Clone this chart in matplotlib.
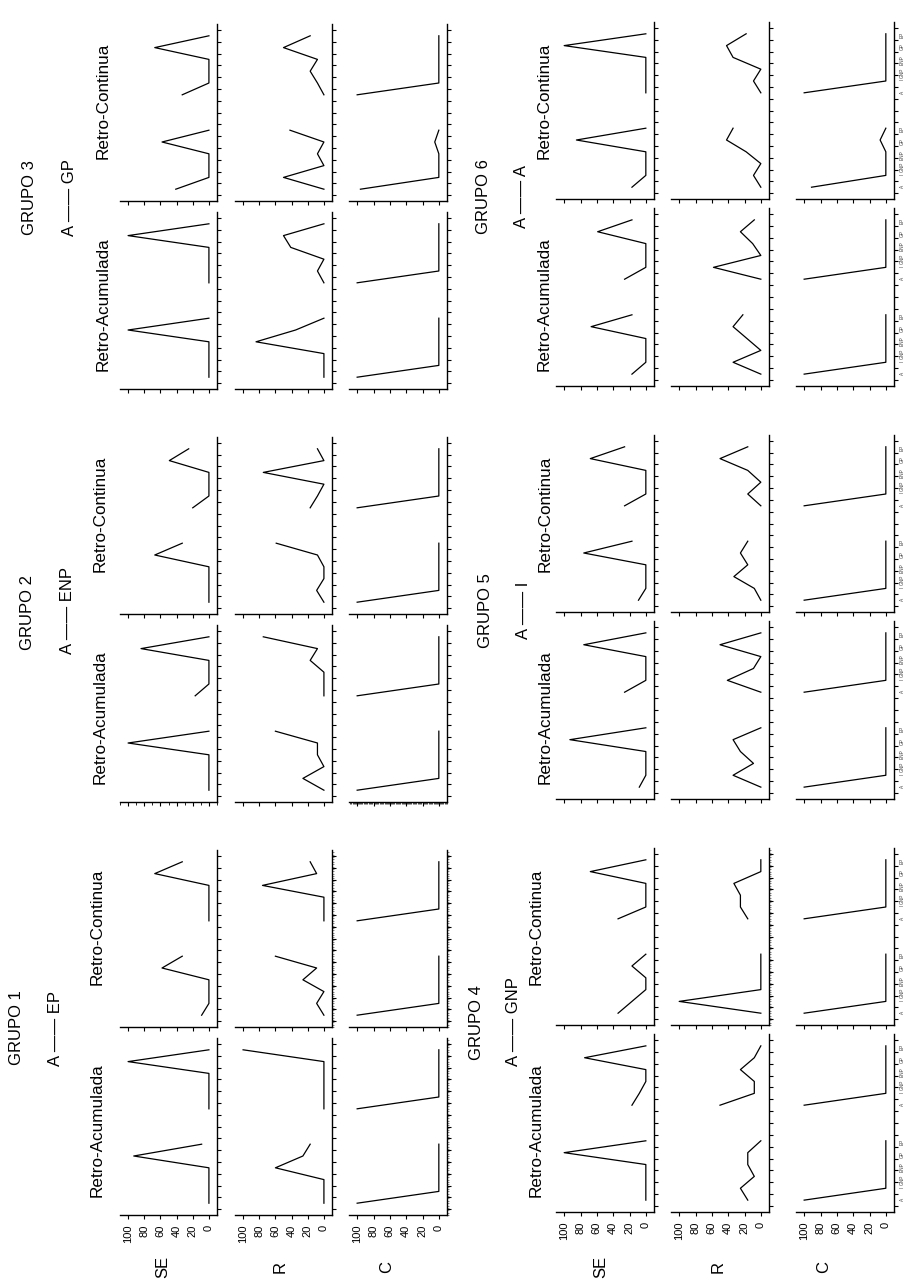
import numpy as np
import matplotlib
matplotlib.use('Agg')
import matplotlib.pyplot as plt
from matplotlib.ticker import FixedLocator, NullFormatter, FixedFormatter

plt.rcParams['font.family'] = 'Liberation Sans'

# categories on the (rotated) x axis, two blocks per panel
cats = ['A', 'I', 'GNP', 'ENP', 'GP', 'EP']
rows = ['SE', 'R', 'C']
cols = ['Retro-Acumulada', 'Retro-Continua']
groups = ['GRUPO 1', 'GRUPO 2', 'GRUPO 3', 'GRUPO 4', 'GRUPO 5', 'GRUPO 6']
pairs = ['A —— EP', 'A —— ENP', 'A —— GP', 'A —— GNP', 'A —— I', 'A —— A']
value_ticks = [0, 20, 40, 60, 80, 100]

L = [100, 0, 0, 0, 0, 0]

# each list: [acum serie 1, acum serie 2, cont serie 1, cont serie 2]
g1_se = [[0, 0, 0, 0, 93, 9], [0, 0, 0, 0, 100, 0], [9, 0, 0, 0, 58, 33], [0, 0, 0, 0, 67, 33]]
g1_r = [[0, 0, 0, 60, 26, 17], [0, 0, 0, 0, 0, 100], [0, 9, 0, 26, 9, 60], [0, 0, 0, 76, 9, 17]]
g1_c = [L, L, L, L]

g2_se = [[0, 0, 0, 0, 100, 0], [17, 0, 0, 0, 84, 0], [0, 0, 0, 0, 67, 33], [20, 0, 0, 0, 49, 25]]
g2_r = [[0, 26, 0, 8, 8, 60], [0, 0, 0, 17, 8, 75], [0, 9, 0, 0, 8, 59], [17, 8, 0, 75, 0, 8]]
g2_c = [L, L, L, L]

g3_se = [[0, 0, 0, 0, 100, 0], [0, 0, 0, 0, 100, 0], [41, 0, 0, 0, 58, 0], [33, 0, 0, 0, 67, 0]]
g3_r = [[0, 0, 0, 84, 35, 0], [0, 8, 0, 41, 50, 0], [0, 50, 0, 8, 0, 42], [0, 8, 17, 8, 50, 17]]
g3_c = [L, L, [96, 0, 0, 0, 5, 0], L]

g4_se = [[0, 0, 0, 0, 100, 0], [17, 8, 0, 0, 75, 0], [34, 17, 0, 0, 17, 0], [34, 0, 0, 0, 68, 0]]
g4_r = [[16, 25, 8, 16, 16, 0], [50, 8, 8, 25, 8, 0], [0, 100, 0, 0, 0, 0], [16, 25, 25, 33, 0, 0]]
g4_c = [L, L, L, L]

g5_se = [[8, 0, 0, 0, 93, 0], [26, 0, 0, 0, 76, 0], [9, 0, 0, 0, 76, 17], [26, 0, 0, 0, 68, 26]]
g5_r = [[0, 34, 9, 25, 34, 0], [0, 41, 9, 0, 50, 0], [0, 8, 33, 16, 25, 16], [0, 16, 0, 16, 50, 16]]
g5_c = [L, L, L, L]

g6_se = [[17, 0, 0, 0, 67, 17], [26, 0, 0, 0, 59, 17], [17, 0, 0, 0, 85, 0], [0, 0, 0, 0, 100, 0]]
g6_r = [[0, 34, 0, 17, 34, 22], [0, 58, 0, 10, 25, 8], [0, 9, 0, 18, 42, 34], [0, 9, 0, 34, 42, 18]]
g6_c = [L, L, [91, 0, 0, 0, 7, 0], L]

data = [[g1_se, g1_r, g1_c], [g2_se, g2_r, g2_c], [g3_se, g3_r, g3_c],
        [g4_se, g4_r, g4_c], [g5_se, g5_r, g5_c], [g6_se, g6_r, g6_c]]

# page is drawn rotated 90 degrees: pixel layout in the portrait image
W, H = 911, 1281
fig = plt.figure(figsize=(W / 100, H / 100), dpi=100)


def rect(x0, x1, y0, y1):
    return [x0 / W, 1 - y1 / H, (x1 - x0) / W, (y1 - y0) / H]


def ptext(x, y, s, size=12, **kw):
    fig.text(x / W, 1 - y / H, s, rotation=90, ha='center', va='center', fontsize=size, **kw)


row_x = [[(120, 217), (235, 332), (349, 447)], [(556, 654), (671, 769), (796, 894)]]
acum_y = [(1038, 1215), (1034, 1212)]
cont_y = [(850, 1027), (848, 1025)]
STEP = 413

pos1 = np.arange(6)
pos2 = np.arange(8, 14)

for g in range(6):
    half = g // 3
    k = g % 3
    for r in range(3):
        x0, x1 = row_x[half][r]
        for c in range(2):
            y0, y1 = acum_y[half] if c == 0 else cont_y[half]
            ax = fig.add_axes(rect(x0, x1, y0 - STEP * k, y1 - STEP * k))
            s1 = data[g][r][2 * c]
            s2 = data[g][r][2 * c + 1]
            ax.plot(s1, pos1, color='black', lw=0.9)
            ax.plot(s2, pos2, color='black', lw=0.9)
            ax.set_xlim(110, -10)
            ax.set_ylim(-1, 14)
            for sp in ['top', 'left']:
                ax.spines[sp].set_visible(False)
            for sp in ['bottom', 'right']:
                ax.spines[sp].set_linewidth(1.0)
            ax.yaxis.tick_right()
            ax.set_xticks(value_ticks)
            ax.set_yticks(np.arange(-0.5, 14, 1))
            ax.yaxis.set_major_formatter(NullFormatter())
            ax.tick_params(axis='both', which='major', direction='out', length=3, width=0.8)
            if k == 0 and c == 0:
                ax.tick_params(axis='x', labelsize=8, labelrotation=90, pad=4)
            else:
                ax.tick_params(axis='x', labelbottom=False)
            if half == 1 and r == 2:
                ax.yaxis.set_minor_locator(FixedLocator(list(pos1) + list(pos2)))
                ax.yaxis.set_minor_formatter(FixedFormatter(cats + cats))
                ax.tick_params(axis='y', which='minor', length=0, labelsize=3.4,
                               labelrotation=90, pad=4, labelcolor='0.25')
            # scanning artefacts: dense tick marks on some axes
            if (g == 0 and r == 2) or (g == 0 and r == 1 and c == 1) or (g == 3 and r == 1 and c == 1):
                ax.yaxis.set_minor_locator(FixedLocator(np.arange(-1, 14, 0.2)))
                ax.tick_params(axis='y', which='minor', length=1.5, width=0.5, color='0.35')
            if g == 1 and r == 2 and c == 0:
                ax.xaxis.set_minor_locator(FixedLocator(np.arange(-10, 110, 1.5)))
                ax.tick_params(axis='x', which='minor', length=1.5, width=0.5)
            if g == 1 and r == 0 and c == 0:
                ax.xaxis.set_minor_locator(FixedLocator(np.arange(-10, 111, 10)))
                ax.tick_params(axis='x', which='minor', length=2, width=0.6)

title_pos = [(17, 1028), (28, 612), (29, 198), (477, 1023), (486, 611), (484, 197)]
pair_pos = [(56, 1028), (68, 611), (70, 198), (514, 1022), (523, 610), (522, 197)]
retro_x = [97, 100, 103, 536, 545, 544]

for g in range(6):
    k = g % 3
    ptext(title_pos[g][0], title_pos[g][1], groups[g], size=12)
    ptext(pair_pos[g][0], pair_pos[g][1], pairs[g], size=12)
    ptext(retro_x[g], 1130 - STEP * k, cols[0], size=12.3)
    ptext(retro_x[g], 927 - STEP * k, cols[1], size=12.3)

row_label_x = [[163, 280, 387], [601, 718, 824]]
for half in range(2):
    for r in range(3):
        ptext(row_label_x[half][r], 1267, rows[r], size=12)

fig.savefig('out.png', dpi=100)
